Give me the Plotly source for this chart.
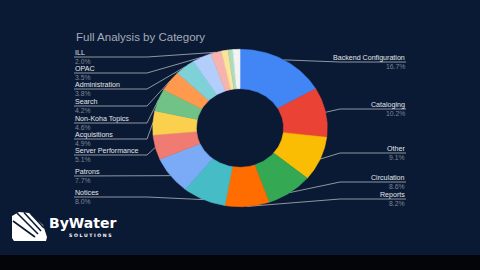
import numpy as np
import plotly.graph_objects as go

# ---------------- data ----------------
title = "Full Analysis by Category"
categories = ["Backend Configuration", "Cataloging", "Other", "Circulation", "Reports",
              "Notices", "Patrons", "Server Performance", "Acquisitions", "Non-Koha Topics",
              "Search", "Administration", "OPAC", "ILL", "Misc 1", "Misc 2", "Misc 3"]
shares = [16.7, 10.2, 9.1, 8.6, 8.2, 8.0, 7.7, 5.1, 4.9, 4.6, 4.2, 3.8, 3.5, 2.0, 1.2, 0.9, 1.3]
colors = ["#4285f4", "#ea4335", "#fbbc04", "#34a853", "#ff6d01", "#46bdc6", "#7baaf7",
          "#f07b72", "#fcd04f", "#71c287", "#ff994d", "#7ed1d7", "#b3cefb", "#f7b4ae",
          "#fde49b", "#aedcba", "#f1f3f4"]
n_labeled = 14
right_side = [True] * 5 + [False] * 9
label_rows = [62, 109, 153, 182, 199, 197, 176, 155, 139, 123, 106, 89, 73, 57]  # underline pixel rows

# ---------------- layout constants ----------------
W, H = 480, 270
CX, CY, RX, RY = 240, 128, 87.3, 78.7
HOLE = 0.5
LEFT_X, RIGHT_X = 74, 406
LEFT_ELBOW, RIGHT_ELBOW = 147, 340
BG = "#0b1a34"
FONT = "Liberation Sans, Arial, sans-serif"


def ux(px):
    return (px - CX) / RX


def vy(py):
    return (CY - py) / RY


fig = go.Figure()

vals = np.array(shares, dtype=float)
cum = np.concatenate([[0.0], np.cumsum(vals / vals.sum())]) * 2 * np.pi

# leader lines (beneath the slices)
for i in range(n_labeled):
    mid = (cum[i] + cum[i + 1]) / 2
    mx, my = np.sin(mid), np.cos(mid)
    row = vy(label_rows[i])
    if right_side[i]:
        xs = [ux(RIGHT_X), ux(RIGHT_ELBOW), mx]
    else:
        xs = [ux(LEFT_X), ux(LEFT_ELBOW), mx]
    ys = [row, row, my]
    fig.add_trace(go.Scatter(x=xs, y=ys, mode="lines", line=dict(color="#aeb5c0", width=0.8),
                             hoverinfo="skip", showlegend=False))

# donut slices
for i, (cat, v, c) in enumerate(zip(categories, shares, colors)):
    t0, t1 = cum[i], cum[i + 1]
    npts = max(4, int(np.degrees(t1 - t0)) + 2)
    t = np.linspace(t0, t1, npts)
    xo, yo = np.sin(t), np.cos(t)
    xi, yi = HOLE * np.sin(t[::-1]), HOLE * np.cos(t[::-1])
    xs = np.concatenate([xo, xi, xo[:1]])
    ys = np.concatenate([yo, yi, yo[:1]])
    fig.add_trace(go.Scatter(x=xs, y=ys, mode="lines", fill="toself", fillcolor=c,
                             line=dict(color=c, width=0.6), name=cat,
                             hoveron="fills", hoverinfo="name+text", text=f"{v:.1f}%",
                             showlegend=False))

annotations = [dict(text=title, x=LEFT_X / W, y=1 - 37 / H, xref="paper", yref="paper",
                    xanchor="left", yanchor="middle", showarrow=False,
                    font=dict(family=FONT, size=11.5, color="#a3abb7"))]
for i in range(n_labeled):
    xpx = RIGHT_X if right_side[i] else LEFT_X
    anchor = "right" if right_side[i] else "left"
    r = label_rows[i]
    annotations.append(dict(text=categories[i], x=xpx / W, y=1 - (r - 4) / H,
                            xref="paper", yref="paper", xanchor=anchor, yanchor="middle",
                            showarrow=False, borderpad=0,
                            font=dict(family=FONT, size=7.1, color="#e1e5eb")))
    annotations.append(dict(text=f"{shares[i]:.1f}%", x=xpx / W, y=1 - (r + 4.5) / H,
                            xref="paper", yref="paper", xanchor=anchor, yanchor="middle",
                            showarrow=False, borderpad=0,
                            font=dict(family=FONT, size=6.8, color="#7d8695")))

# logo
annotations.append(dict(text="<b>ByWater</b>", x=47 / W, y=1 - 223 / H, xref="paper", yref="paper",
                        xanchor="left", yanchor="middle", showarrow=False,
                        font=dict(family="DejaVu Sans", size=14, color="#ffffff")))
annotations.append(dict(text="<b>S O L U T I O N S</b>", x=67 / W, y=1 - 235.5 / H, xref="paper",
                        yref="paper", xanchor="left", yanchor="middle", showarrow=False,
                        font=dict(family="DejaVu Sans", size=4.6, color="#ffffff")))


def ppath(pts, close=True):
    s = "M " + " L ".join(f"{x / W:.5f},{1 - y / H:.5f}" for x, y in pts)
    return s + (" Z" if close else "")


shapes = [
    dict(type="rect", xref="paper", yref="paper", x0=0, x1=1, y0=0, y1=1 - 255 / H,
         fillcolor="#030509", line=dict(width=0), layer="below"),
    dict(type="path", xref="paper", yref="paper",
         path=ppath([(12, 216), (19, 212), (29, 213), (43, 225), (47, 237), (46, 241), (14, 241), (12, 238)]),
         fillcolor="#ffffff", line=dict(width=0)),
]
for a, b in [((17, 213), (38, 234)), ((24, 212.5), (41, 231)), ((13, 221), (35, 237)), ((31, 214), (44, 228))]:
    shapes.append(dict(type="path", xref="paper", yref="paper", path=ppath([a, b], close=False),
                       line=dict(color=BG, width=1.6)))

fig.update_layout(
    width=W, height=H, margin=dict(l=0, r=0, t=0, b=0),
    paper_bgcolor=BG, plot_bgcolor=BG,
    xaxis=dict(range=[ux(0), ux(W)], visible=False, fixedrange=True),
    yaxis=dict(range=[vy(H), vy(0)], visible=False, fixedrange=True),
    annotations=annotations, shapes=shapes, hovermode="closest",
)

fig.write_html("out.html")
